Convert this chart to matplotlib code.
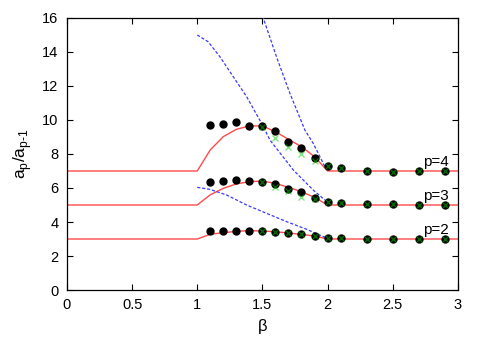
import matplotlib
matplotlib.use("Agg")
import matplotlib.pyplot as plt

plt.rcParams['font.family'] = ['Liberation Sans', 'DejaVu Sans']
plt.rcParams['mathtext.fontset'] = 'custom'
plt.rcParams['mathtext.rm'] = 'Liberation Sans'

# Red theory lines (beta grid)
beta_line = [0.0, 1.0, 1.1, 1.2, 1.3, 1.4, 1.5, 1.6, 1.7, 1.8, 1.9, 2.0, 3.0]
red_p4 = [7.0, 7.0, 8.24, 9.02, 9.45, 9.65, 9.65, 9.31, 8.86, 8.43, 7.84, 7.0, 7.0]
red_p3 = [5.0, 5.0, 5.6, 5.98, 6.24, 6.37, 6.41, 6.27, 6.04, 5.78, 5.45, 5.0, 5.0]
red_p2 = [3.0, 3.0, 3.28, 3.37, 3.45, 3.49, 3.47, 3.43, 3.35, 3.27, 3.18, 3.0, 3.0]

# Black dots
beta_dots = [1.1, 1.2, 1.3, 1.4, 1.5, 1.6, 1.7, 1.8, 1.9, 2.0, 2.1, 2.3, 2.5, 2.7, 2.9]
dots_p4 = [9.7, 9.76, 9.88, 9.66, 9.65, 9.35, 8.69, 8.35, 7.75, 7.29, 7.2, 7.02, 6.96, 7.02, 7.02]
dots_p3 = [6.35, 6.39, 6.47, 6.41, 6.35, 6.25, 5.94, 5.75, 5.39, 5.2, 5.14, 5.04, 5.04, 5.02, 5.02]
dots_p2 = [3.45, 3.47, 3.49, 3.49, 3.45, 3.43, 3.37, 3.27, 3.16, 3.08, 3.06, 3.02, 3.02, 3.02, 3.02]

# Green crosses
beta_x = [1.5, 1.6, 1.7, 1.8, 1.9, 2.0, 2.1, 2.3, 2.5, 2.7, 2.9]
x_p4 = [9.57, 8.96, 8.39, 8.0, 7.59, 7.29, 7.2, 7.02, 6.96, 7.02, 7.02]
x_p3 = [6.35, 6.04, 5.84, 5.49, 5.33, 5.2, 5.14, 5.04, 5.04, 5.02, 5.02]
x_p2 = [3.45, 3.43, 3.37, 3.27, 3.16, 3.08, 3.06, 3.02, 3.02, 3.02, 3.02]

# Blue dashed approximations
blueA_b = [1.0, 1.084, 1.174, 1.276, 1.379, 1.494, 1.558, 1.737, 1.89, 1.98]
blueA_y = [15.0, 14.6, 13.72, 12.55, 11.37, 9.8, 8.82, 7.06, 5.88, 5.29]
blueB_b = [1.49, 1.512, 1.609, 1.711, 1.826, 1.89, 1.98]
blueB_y = [16.4, 15.88, 13.7, 11.57, 9.41, 8.63, 7.25]
blueC_b = [1.0, 1.097, 1.225, 1.379, 1.532, 1.686, 1.84, 1.967, 2.0]
blueC_y = [6.04, 5.92, 5.59, 5.0, 4.51, 4.02, 3.57, 3.14, 3.08]

labels = ['p=4', 'p=3', 'p=2']
label_y = [7.5, 5.55, 3.55]

fig = plt.figure(figsize=(4.85, 3.39), dpi=100)
ax = fig.add_axes([0.138, 0.1445, 0.806, 0.8025])

red = '#ff4a4a'
blue = '#3a3aff'
for ry in (red_p4, red_p3, red_p2):
    ax.plot(beta_line, ry, color=red, lw=1.0, zorder=2)
for bb, by in ((blueA_b, blueA_y), (blueB_b, blueB_y), (blueC_b, blueC_y)):
    ax.plot(bb, by, color=blue, lw=0.9, ls=(0, (2.5, 1.5)), zorder=3)
for dy in (dots_p4, dots_p3, dots_p2):
    ax.plot(beta_dots, dy, 'o', color='black', ms=5, zorder=4)
for xy in (x_p4, x_p3, x_p2):
    ax.plot(beta_x, xy, 'x', color=(0.0, 0.8, 0.0), alpha=0.5, ms=5, mew=1.0, zorder=5)

for lab, ly in zip(labels, label_y):
    ax.text(2.93, ly, lab, ha='right', va='center', fontsize=11)

ax.set_xlim(0, 3)
ax.set_ylim(0, 16)
ax.set_xticks([0, 0.5, 1, 1.5, 2, 2.5, 3])
ax.set_xticklabels(['0', '0.5', '1', '1.5', '2', '2.5', '3'])
ax.set_yticks(range(0, 17, 2))
ax.tick_params(direction='in', top=True, right=True, length=4, width=0.8, labelsize=10.5, pad=6)
for s in ax.spines.values():
    s.set_linewidth(0.9)

ax.set_xlabel('β', fontsize=12, labelpad=5)
ax.set_ylabel(r'a$_\mathregular{p}$/a$_\mathregular{p\text{-}1}$', fontsize=12.5, labelpad=6)

fig.savefig('out.png', dpi=100)
